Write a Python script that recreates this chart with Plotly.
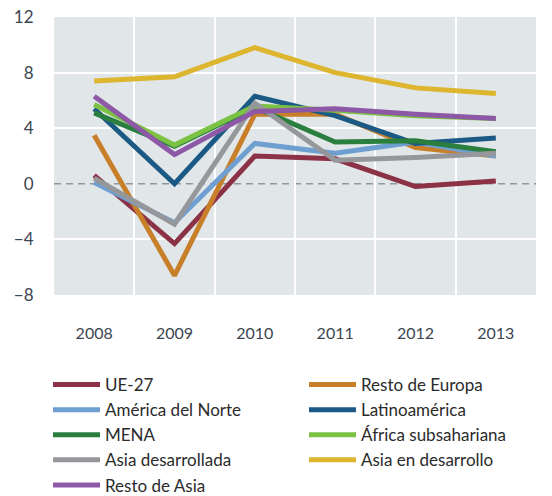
import plotly.graph_objects as go

years = [2008, 2009, 2010, 2011, 2012, 2013]

ue27 = [0.6, -4.3, 2.0, 1.8, -0.2, 0.2]
resto_europa = [3.5, -6.6, 5.0, 5.0, 2.6, 2.0]
america_norte = [0.1, -2.8, 2.9, 2.2, 3.0, 2.0]
latinoamerica = [5.4, 0.0, 6.3, 4.9, 2.9, 3.3]
mena = [5.1, 2.7, 5.5, 3.0, 3.1, 2.3]
africa_sub = [5.7, 2.8, 5.6, 5.3, 4.9, 4.7]
asia_desarrollada = [0.4, -2.9, 5.8, 1.7, 1.9, 2.2]
asia_en_desarrollo = [7.4, 7.7, 9.8, 8.0, 6.9, 6.5]
resto_asia = [6.3, 2.1, 5.2, 5.4, 5.0, 4.7]

# (name, values, colour, legend column)
series = [
    ("UE-27", ue27, "#8C3247", 1),
    ("Resto de Europa", resto_europa, "#C87F2A", 2),
    ("América del Norte", america_norte, "#6F9FD0", 1),
    ("Latinoamérica", latinoamerica, "#1B5A84", 2),
    ("MENA", mena, "#2A7F3F", 1),
    ("África subsahariana", africa_sub, "#7BC143", 2),
    ("Asia desarrollada", asia_desarrollada, "#96979A", 1),
    ("Asia en desarrollo", asia_en_desarrollo, "#DDB52E", 2),
    ("Resto de Asia", resto_asia, "#8D58A5", 1),
]

y_ticks = [-8, -4, 0, 4, 8, 12]
y_ticktext = ["\u22128", "\u22124", "0", "4", "8", "12"]

FONT = "Lato, Roboto, sans-serif"

fig = go.Figure()
for name, vals, color, col in series:
    fig.add_trace(go.Scatter(
        x=years, y=vals, name=name, mode="lines",
        line=dict(color=color, width=5),
        legendwidth=194 if col == 1 else 150,
    ))

fig.add_shape(type="line", xref="paper", x0=0, x1=1, yref="y", y0=0, y1=0,
              line=dict(color="#8D98A0", width=1.5, dash="7px,5px"), layer="between")

fig.update_layout(
    width=552, height=496,
    margin=dict(l=54, r=16, t=17, b=201, autoexpand=False),
    paper_bgcolor="white",
    plot_bgcolor="#E1E6E8",
    font=dict(family=FONT, color="#3C4650", size=16),
    showlegend=True,
    legend=dict(
        orientation="h", x=-6 / 482, xanchor="left", y=-72 / 278, yanchor="top",
        itemwidth=47, font=dict(size=17, color="#2B2B2B"),
        traceorder="normal", bgcolor="rgba(0,0,0,0)", borderwidth=0,
    ),
    xaxis=dict(
        range=[2007.5, 2013.5], tickmode="array", tickvals=years,
        ticktext=[str(y) for y in years], showgrid=False, zeroline=False,
        showline=False, ticks="outside", ticklen=0, ticklabelstandoff=24,
        tickfont=dict(size=16), automargin=False,
        minor=dict(tickmode="array", tickvals=[2008.5, 2009.5, 2010.5, 2011.5, 2012.5],
                   showgrid=True, gridcolor="white", gridwidth=2, ticks=""),
    ),
    yaxis=dict(
        range=[-8, 12], tickmode="array", tickvals=y_ticks, ticktext=y_ticktext,
        showgrid=False, zeroline=False, showline=False, ticks="outside", ticklen=0,
        ticklabelstandoff=16, tickfont=dict(size=17), automargin=False,
        minor=dict(tickmode="array", tickvals=[-8, -4, 4, 8, 12],
                   showgrid=True, gridcolor="white", gridwidth=2, ticks=""),
    ),
)

fig.write_html("out.html", config={"displayModeBar": False},
               post_script="document.body.style.margin='0';")
